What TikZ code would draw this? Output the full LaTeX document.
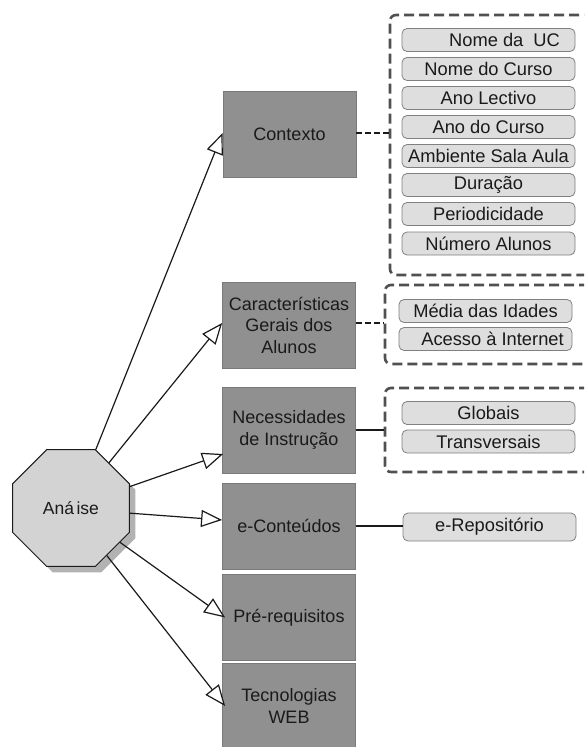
\documentclass[tikz,border=0pt]{standalone}
\usepackage{fontspec}
\setmainfont{Liberation Sans}
\usetikzlibrary{shapes.geometric,arrows.meta,shadows,calc}
\definecolor{boxgray}{HTML}{909090}
\definecolor{boxedge}{HTML}{7A7A7A}
\definecolor{itemfill}{HTML}{DEDEDE}
\definecolor{itemedge}{HTML}{808080}
\definecolor{octfill}{HTML}{D3D3D3}
\definecolor{groupedge}{HTML}{505050}
\definecolor{inkdark}{HTML}{1A1A1A}

\begin{document}
\begin{tikzpicture}[x=1pt,y=-1pt,
  topic/.style={rectangle, fill=boxgray, draw=boxedge, line width=0.8pt,
    minimum width=133pt, minimum height=86pt, inner sep=2pt, align=center,
    font=\fontsize{18}{21.5}\selectfont, text=inkdark},
  item/.style={rectangle, rounded corners=5pt, fill=itemfill, draw=itemedge,
    line width=0.8pt, minimum width=173pt, minimum height=23pt, inner sep=0pt,
    font=\fontsize{18.3}{20}\selectfont, text=inkdark},
  group/.style={rectangle, rounded corners=6pt, draw=groupedge, line width=2.6pt,
    dash pattern=on 10pt off 5pt, minimum width=240pt, inner sep=0pt},
  flow/.style={draw=inkdark, line width=1.2pt,
    -{Triangle[length=21pt, width=17pt, fill=white]}},
  link/.style={draw=inkdark, line width=1.2pt},
  dlink/.style={link, dash pattern=on 6pt off 3pt}]

\useasboundingbox (0,0) rectangle (584,747);
\clip (0,0) rectangle (584,747);

% central octagon
\node[regular polygon, regular polygon sides=8, minimum size=126.6pt, inner sep=0pt,
      fill=octfill, draw=inkdark, line width=1pt,
      font=\fontsize{17.5}{20}\selectfont, text=inkdark,
      drop shadow={shadow xshift=6pt, shadow yshift=-6pt, fill=black!30, opacity=1}]
      (oct) at (71,508) {Aná\kern2.5pt ise};

% topic boxes
\node[topic] (ctx) at (289.5,134) {Contexto};
\node[topic] (car) at (289,325) {Características\\Gerais dos\\Alunos};
\node[topic] (nec) at (289,430) {Necessidades\\de Instrução};
\node[topic] (eco) at (289,526) {e-Conteúdos};
\node[topic] (pre) at (289,617.5) {Pré-requisitos};
\node[topic] (tec) at (289,706) {Tecnologias\\WEB};

% dashed groups
\node[group, minimum height=260pt] (g1) at (510,145) {};
\node[group, minimum height=79pt] (g2) at (505,324.5) {};
\node[group, minimum height=84pt] (g3) at (505,430) {};

% group items
\node[item] (i1) at (488.5,40)  {\hspace*{32pt}Nome da\hspace{10pt}UC};
\node[item] (i2) at (488.5,69)  {Nome do Curso};
\node[item] (i3) at (488.5,98)  {Ano Lectivo};
\node[item] (i4) at (488.5,127) {Ano do Curso};
\node[item] (i5) at (488.5,156) {Ambiente Sala Aula};
\node[item] (i6) at (488.5,185) {Duração};
\node[item] (i7) at (488.5,214) {Periodicidade};
\node[item] (i8) at (488.5,243.5) {Número Alunos};

\node[item] (j1) at (485.5,311) {Média das Idades};
\node[item] (j2) at (485.5,339) {\hspace*{14pt}Acesso à Internet};

\node[item] (k1) at (488.5,413) {Globais};
\node[item] (k2) at (488.5,441.5) {Transversais};

\node[item, minimum height=28pt] (rep) at (489.5,527) {e-Repositório};

% connectors to groups
\draw[dlink] ([yshift=1pt]ctx.east) -- ([yshift=1pt]ctx.east -| g1.west);
\draw[dlink] ([yshift=2pt]car.east) -- ([yshift=2pt]car.east -| g2.west);
\draw[link] (nec.east) -- (nec.east -| g3.west);
\draw[link] (eco.east) -- (eco.east -| rep.west);

% arrows from the octagon
\draw[flow] (oct.67.5) -- ([yshift=1pt]ctx.west);
\draw[flow] (oct.50) -- ([yshift=2pt]car.west);
\draw[flow] (oct.20) -- ([xshift=1pt, yshift=-24pt]nec.west);
\draw[flow] (oct.-5) -- ([yshift=6pt]eco.west);
\draw[flow] (oct.-35) -- ([xshift=3pt]pre.west);
\draw[flow] (oct.-53) -- ([xshift=3pt]tec.west);
\end{tikzpicture}
\end{document}
